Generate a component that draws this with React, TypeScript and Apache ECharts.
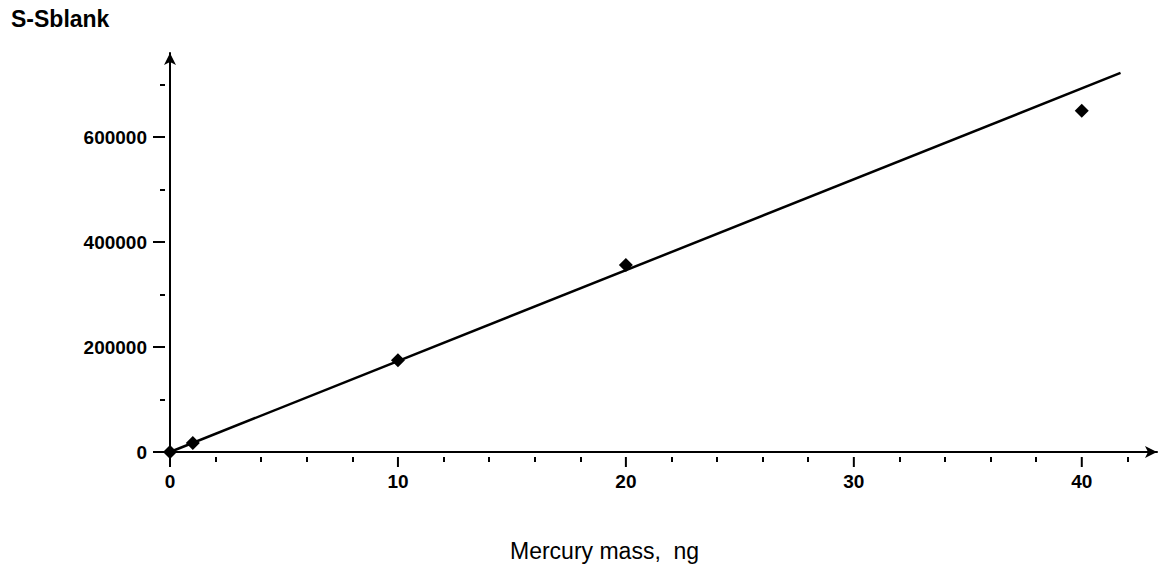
import React, { useEffect, useRef } from "react";
import * as echarts from "echarts";

const massNg = [0, 1, 10, 20, 40];
const signal = [0, 17000, 175000, 356000, 650000];
const fitX = [0, 41.7];
const fitY = [0, 722000];
const xMajor = [0, 10, 20, 30, 40];
const xMinor = [2, 4, 6, 8, 12, 14, 16, 18, 22, 24, 26, 28, 32, 34, 36, 38, 42];
const yMajor = [0, 200000, 400000, 600000];
const yMinor = [100000, 300000, 500000, 700000];
const yTitle = "S-Sblank";
const xTitle = "Mercury mass,  ng";

const X_MAX = 43.3;
const Y_MAX = 760000;

export default function App() {
  const ref = useRef<HTMLDivElement>(null);
  useEffect(() => {
    if (!ref.current) return;
    const chart = echarts.init(ref.current, null, { renderer: "svg" });
    const font = "'Liberation Sans', Arial, sans-serif";
    const baseAxis = (kind: "x" | "y") => ({
      type: "value",
      min: 0,
      max: kind === "x" ? X_MAX : Y_MAX,
      position: kind === "x" ? "bottom" : "left",
      splitLine: { show: false },
    });
    const plain = (v: number) => String(v);
    const tickAxis = (kind: "x" | "y", values: number[], length: number) => ({
      ...baseAxis(kind),
      offset: 5,
      axisLine: { show: false, onZero: false },
      axisTick: { show: true, customValues: values, length, lineStyle: { color: "#000", width: 2 } },
      axisLabel: { show: false },
    });
    const labelAxis = (kind: "x" | "y", values: number[], margin: number) => ({
      ...baseAxis(kind),
      axisLine: { show: false, onZero: false },
      axisTick: { show: false },
      axisLabel: { show: true, customValues: values, formatter: plain, margin, color: "#000", fontSize: 19, fontWeight: "bold", fontFamily: font },
    });
    const option: any = {
      animation: false,
      backgroundColor: "#ffffff",
      grid: { left: 170, right: 8, top: 53, bottom: 115, containLabel: false, outerBoundsMode: "none" },
      xAxis: [
        {
          ...baseAxis("x"),
          axisLine: { show: true, onZero: false, symbol: ["none", "arrow"], symbolSize: [9, 12], lineStyle: { color: "#000", width: 2 } },
          axisTick: { show: false },
          axisLabel: { show: false },
        },
        labelAxis("x", xMajor, 20),
        tickAxis("x", xMinor, 5),
      ],
      yAxis: [
        {
          ...baseAxis("y"),
          axisLine: { show: true, onZero: false, symbol: ["none", "arrow"], symbolSize: [9, 12], lineStyle: { color: "#000", width: 2 } },
          axisTick: { show: false },
          axisLabel: { show: false },
        },
        labelAxis("y", yMajor, 23),
        tickAxis("y", yMinor, 5),
      ],
      series: [
        {
          type: "scatter",
          xAxisIndex: 0,
          yAxisIndex: 0,
          data: xMajor.map((x) => [x, 0]),
          symbol: "rect",
          symbolSize: [2, 10],
          symbolOffset: [0, 10],
          itemStyle: { color: "#000", opacity: 1 },
          clip: false,
          silent: true,
          z: 1,
        },
        {
          type: "scatter",
          xAxisIndex: 0,
          yAxisIndex: 0,
          data: yMajor.map((y) => [0, y]),
          symbol: "rect",
          symbolSize: [12, 2],
          symbolOffset: [-11, 0],
          itemStyle: { color: "#000", opacity: 1 },
          clip: false,
          silent: true,
          z: 1,
        },
        {
          type: "line",
          xAxisIndex: 0,
          yAxisIndex: 0,
          data: fitX.map((x, i) => [x, fitY[i]]),
          showSymbol: false,
          lineStyle: { color: "#000", width: 2.5 },
          z: 2,
        },
        {
          type: "scatter",
          xAxisIndex: 0,
          yAxisIndex: 0,
          data: massNg.map((x, i) => [x, signal[i]]),
          symbol: "diamond",
          symbolSize: 14,
          itemStyle: { color: "#000", opacity: 1 },
          z: 3,
        },
      ],
      graphic: [
        {
          type: "text",
          left: 11,
          top: 7,
          style: { text: yTitle, fill: "#000", font: `bold 23px ${font}` },
        },
        {
          type: "text",
          left: 510,
          top: 539,
          style: { text: xTitle, fill: "#000", font: `23px ${font}` },
        },
      ],
    };
    chart.setOption(option);
    return () => chart.dispose();
  }, []);
  return (
    <div
      ref={ref}
      style={{ position: "absolute", left: 0, top: 0, width: 1165, height: 567, background: "#fff" }}
    />
  );
}
